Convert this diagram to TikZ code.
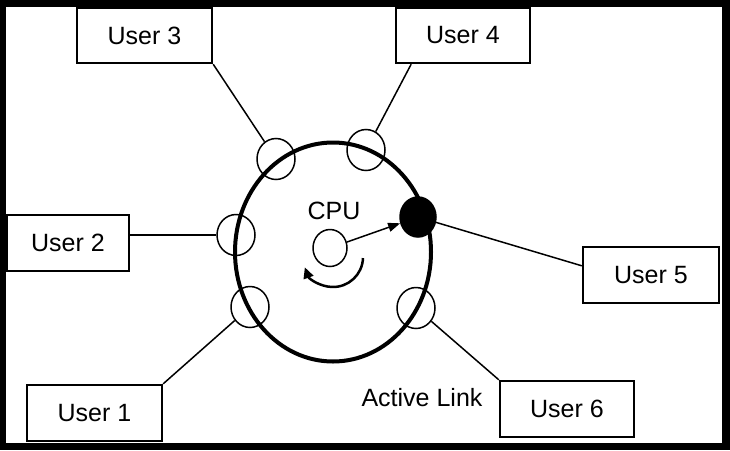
\documentclass[tikz,border=0pt]{standalone}
\usepackage{fontspec}
\setmainfont{Liberation Sans}
\usetikzlibrary{shapes.geometric,calc,arrows.meta}
\begin{document}
\begin{tikzpicture}[x=1pt,y=-1pt,
  userbox/.style={draw,line width=2.4pt,minimum height=55pt,inner sep=0pt,font=\fontsize{25}{30}\selectfont},
  port/.style={draw,ellipse,line width=1.5pt,minimum width=38pt,minimum height=41pt,inner sep=0pt},
  link/.style={line width=1.5pt},
  lbl/.style={font=\fontsize{25}{30}\selectfont,inner sep=0pt}]
\fill[black] (0,0) rectangle (730,450);
\fill[white] (6,7) rectangle (722,443);
\useasboundingbox (0,0) rectangle (730,450);
% ring
\node[draw,ellipse,line width=4pt,minimum width=196pt,minimum height=219pt,inner sep=0pt] (ring) at (333,252) {};
% user boxes
\node[userbox,minimum width=135pt] (u3) at (144.5,35.5) {User 3};
\node[userbox,minimum width=134pt] (u4) at (463,35.5) {User 4};
\node[userbox,minimum width=122pt,minimum height=56pt] (u2) at (68,243) {User 2};
\node[userbox,minimum width=136pt,minimum height=56pt] (u5) at (651,275) {User 5};
\node[userbox,minimum width=135pt,minimum height=56pt] (u1) at (94.5,413) {User 1};
\node[userbox,minimum width=134pt,minimum height=56pt] (u6) at (567,409) {User 6};
% ports
\node[port] (p3) at (276,159) {};
\node[port] (p4) at (366,150) {};
\node[port] (p2) at (236,235) {};
\node[port] (p1) at (250,307) {};
\node[port] (p6) at (416,308) {};
\node[port,fill=black,minimum width=36pt,minimum height=40pt] (p5) at (418,217) {};
% connectors
\draw[link] (u3.south east) -- (p3);
\draw[link] ($(u4.south west)!0.12!(u4.south east)$) -- (p4);
\draw[link] (u2.east |- p2) -- (p2);
\draw[link] (p5) -- ($(u5.north west)+(0,20)$);
\draw[link] (u1.north east) -- (p1);
\draw[link] (u6.north west) -- (p6);
% CPU
\node[lbl] (cpulbl) at (334,211) {CPU};
\node[draw,ellipse,line width=1.5pt,minimum width=34pt,minimum height=37pt,inner sep=0pt] (cpu) at (330,248) {};
\draw[link,-{Triangle[length=12pt,width=9pt]}] (cpu) -- (p5);
\draw[line width=2.5pt,-{Triangle[length=11pt,width=10pt]}] ([shift={(2:30)}]333,257) arc[start angle=2,end angle=160,radius=30];
% label
\node[lbl] (active) at (422,398) {Active Link};
\end{tikzpicture}
\end{document}
